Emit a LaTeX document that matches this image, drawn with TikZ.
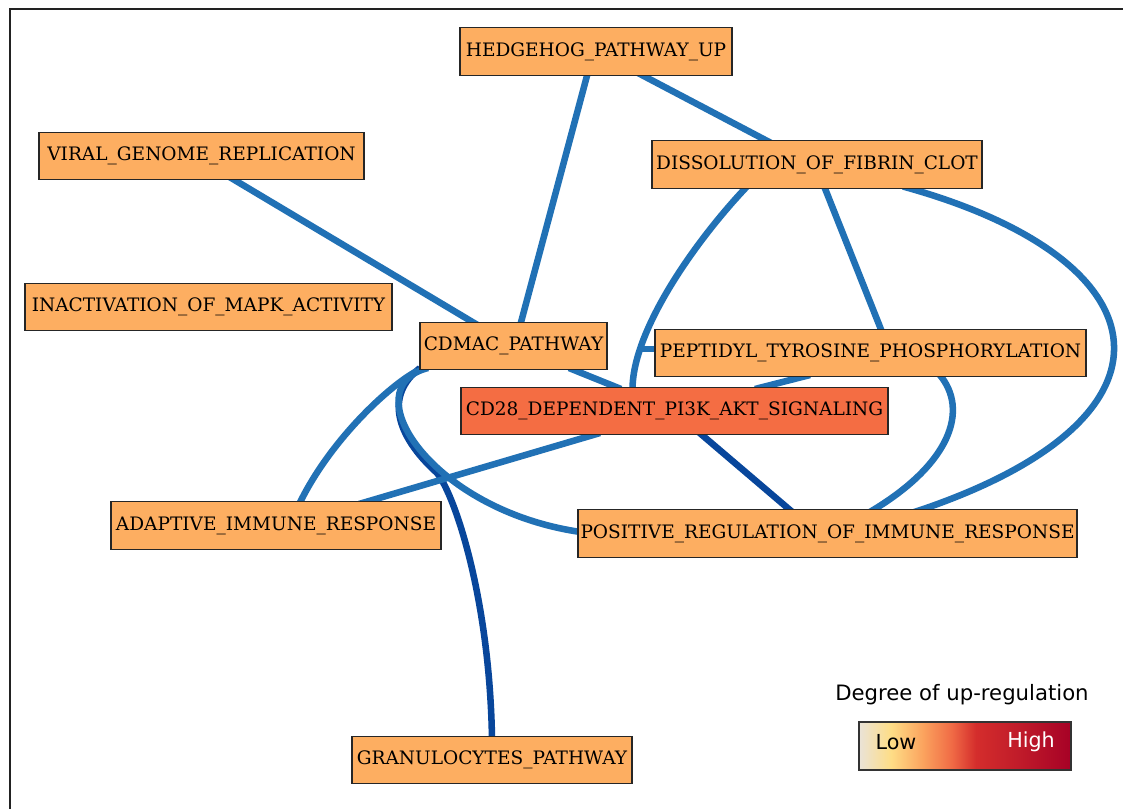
\documentclass[tikz,border=0pt]{standalone}
\usepackage{fontspec}
\setmainfont{DejaVu Serif}
\newfontfamily\legendfont{DejaVu Sans}
\pgfdeclarelayer{background}
\pgfsetlayers{background,main}
\definecolor{nodeorange}{HTML}{FDAE61}
\definecolor{hotorange}{HTML}{F46D43}
\definecolor{edgeblue}{HTML}{2171B5}
\definecolor{darkblue}{HTML}{08469B}
\definecolor{frameclr}{HTML}{222222}
\definecolor{gA}{HTML}{EAE3D8}
\definecolor{gB}{HTML}{FEDD86}
\definecolor{gC}{HTML}{FBA35E}
\definecolor{gD}{HTML}{F06A45}
\definecolor{gE}{HTML}{D42D2C}
\definecolor{gF}{HTML}{C21D2A}
\definecolor{gG}{HTML}{A60126}
\tikzset{
  term/.style={draw=black!85, line width=1pt, fill=nodeorange, inner sep=0pt,
    minimum height=35.6pt, font=\fontsize{13.9}{16}\selectfont},
  hot/.style={term, fill=hotorange},
  edge/.style={draw=edgeblue, line width=4.9pt},
  darkedge/.style={draw=darkblue, line width=4.9pt},
  frame/.style={draw=frameclr, line width=1.5pt},
  legendtext/.style={font=\legendfont\fontsize{15.5}{18}\selectfont, inner sep=0pt},
  titletext/.style={font=\legendfont\fontsize{15.9}{18}\selectfont, inner sep=0pt}
}
\begin{document}
\begin{tikzpicture}[x=0.75pt,y=-0.75pt]
\useasboundingbox (0,0) rectangle (1123,809);

% nodes
\node[term, minimum width=204pt]    (hedge)  at (596,51.5)  {HEDGEHOG\_PATHWAY\_UP};
\node[term, minimum width=243.75pt] (viral)  at (201.5,156) {VIRAL\_GENOME\_REPLICATION};
\node[term, minimum width=247.5pt]  (dissol) at (817,164.5) {DISSOLUTION\_OF\_FIBRIN\_CLOT};
\node[term, minimum width=275.25pt] (mapk)   at (208.5,307) {INACTIVATION\_OF\_MAPK\_ACTIVITY};
\node[term, minimum width=140.25pt] (cdmac)  at (513.5,346) {CDMAC\_PATHWAY};
\node[term, minimum width=323.25pt] (pep)    at (870.5,353) {PEPTIDYL\_TYROSINE\_PHOSPHORYLATION};
\node[hot,  minimum width=320.25pt] (cd28)   at (674.5,411) {CD28\_DEPENDENT\_PI3K\_AKT\_SIGNALING};
\node[term, minimum width=247.5pt]  (adapt)  at (276,525.5) {ADAPTIVE\_IMMUNE\_RESPONSE};
\node[term, minimum width=374.25pt] (posreg) at (827.5,533.5) {POSITIVE\_REGULATION\_OF\_IMMUNE\_RESPONSE};
\node[term, minimum width=210pt]    (gran)   at (492,760)   {GRANULOCYTES\_PATHWAY};

% background and edges
\begin{pgfonlayer}{background}
\fill[white] (0,0) rectangle (1123,809);
\draw[frame] (10,809) -- (10,9) -- (1123,9);

\draw[darkedge] ([shift={(-93.5,22)}]cdmac.center) .. controls (385,395) and (395,435) .. (437,473)
   .. controls (455,495) and (490,600) .. ([shift={(0,-20)}]gran.center);
\draw[darkedge] ([shift={(24,21)}]cd28.center) -- ([shift={(-34,-20.5)}]posreg.center);

\draw[edge] ([shift={(-8,20.5)}]hedge.center) -- ([shift={(6.5,-20)}]cdmac.center);
\draw[edge] ([shift={(42,21.5)}]hedge.center) -- ([shift={(-44,-20.5)}]dissol.center);
\draw[edge] ([shift={(28,21)}]viral.center) -- ([shift={(-36,-21)}]cdmac.center);
\draw[edge] ([shift={(7,21.5)}]dissol.center) -- ([shift={(11.5,-21)}]pep.center);
\draw[edge] ([shift={(55.5,22)}]cdmac.center) -- ([shift={(-53.5,-22)}]cd28.center);
\draw[edge] ([shift={(-60.5,22)}]pep.center) -- ([shift={(80.5,-22)}]cd28.center);
\draw[edge] ([shift={(-74.5,22)}]cd28.center) -- ([shift={(83,-21.5)}]adapt.center);

\draw[edge] ([shift={(-70,22)}]dissol.center) .. controls (697,239) and (632,330) .. ([shift={(-42,-21)}]cd28.center);
\coordinate (junction) at (639,349);
\draw[edge] ([shift={(4,-4)}]pep.west) -- (junction);
\draw[edge] ([shift={(68.5,21)}]pep.center) .. controls (970,410) and (950,465) .. ([shift={(41.5,-21)}]posreg.center);
\draw[edge] ([shift={(86,22)}]dissol.center) .. controls (1170,260) and (1195,420) .. ([shift={(85.5,-21)}]posreg.center);
\draw[edge] ([shift={(-96.5,25)}]cdmac.center) .. controls (390,385) and (330,440) .. ([shift={(23,-21)}]adapt.center);
\draw[edge] ([shift={(-85.5,22)}]cdmac.center) .. controls (352,387) and (430,510) .. ([shift={(-247,-1.5)}]posreg.center);
\end{pgfonlayer}

% legend
\node[titletext] (ltitle) at (962,695) {Degree of up-regulation};
\shade[left color=gA, right color=gB] (859,722) rectangle (891,770);
\shade[left color=gB, right color=gC] (891,722) rectangle (923,770);
\shade[left color=gC, right color=gD] (923,722) rectangle (952,770);
\shade[left color=gD, right color=gE] (952,722) rectangle (976,770);
\shade[left color=gE, right color=gF] (976,722) rectangle (1015,770);
\shade[left color=gF, right color=gG] (1015,722) rectangle (1071,770);
\node[draw=black!80, line width=0.8pt, minimum width=159pt, minimum height=36pt, inner sep=0pt] (cbar) at (965,746) {};
\node[legendtext, text=black] (low) at (896,742) {Low};
\node[legendtext, text=white] (high) at (1031,742) {High};
\end{tikzpicture}
\end{document}
